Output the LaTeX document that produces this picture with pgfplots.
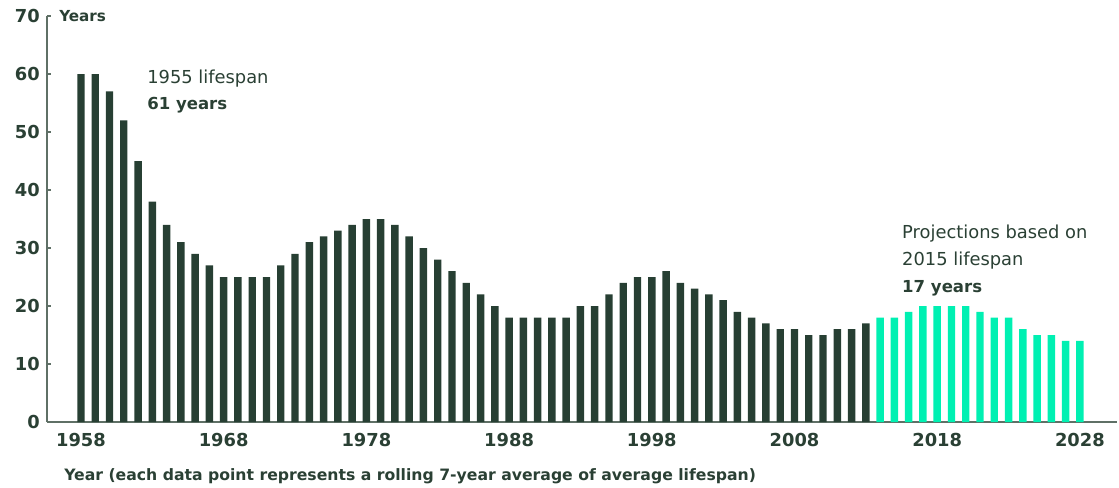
\documentclass[border=0pt]{standalone}
\usepackage{fontspec}
\setmainfont{DejaVu Sans}
\usepackage{pgfplots}
\pgfplotsset{compat=1.18}
\definecolor{darkbar}{RGB}{39,63,51}
\definecolor{greenbar}{RGB}{0,240,178}
\definecolor{txt}{RGB}{42,64,52}
\definecolor{axl}{RGB}{95,112,102}

\pgfplotstableread{
year val
1958 60
1959 60
1960 57
1961 52
1962 45
1963 38
1964 34
1965 31
1966 29
1967 27
1968 25
1969 25
1970 25
1971 25
1972 27
1973 29
1974 31
1975 32
1976 33
1977 34
1978 35
1979 35
1980 34
1981 32
1982 30
1983 28
1984 26
1985 24
1986 22
1987 20
1988 18
1989 18
1990 18
1991 18
1992 18
1993 20
1994 20
1995 22
1996 24
1997 25
1998 25
1999 26
2000 24
2001 23
2002 22
2003 21
2004 19
2005 18
2006 17
2007 16
2008 16
2009 15
2010 15
2011 16
2012 16
2013 17
}\histdata

\pgfplotstableread{
year val
2014 18
2015 18
2016 19
2017 20
2018 20
2019 20
2020 20
2021 19
2022 18
2023 18
2024 16
2025 15
2026 15
2027 14
2028 14
}\projdata

\begin{document}
\begin{tikzpicture}
\useasboundingbox (-35.25pt,-48.75pt) rectangle (804pt,316.5pt);
\begin{axis}[
  at={(0pt,0pt)}, anchor=south west,
  scale only axis,
  width=802.5pt, height=304.5pt,
  xmin=1955.62, xmax=2030.6,
  ymin=0, ymax=70,
  clip=false,
  axis x line*=bottom, axis y line*=left,
  axis line style={-, draw=axl, line width=0.8pt},
  xtick={1958,1968,...,2028},
  ytick={0,10,...,70},
  xtick style={draw=none},
  ytick style={draw=axl, line width=0.8pt},
  tick align=inside,
  major tick length=3pt,
  /pgf/number format/assume math mode=true,
  /pgf/number format/1000 sep={},
  tick label style={font=\fontsize{13.4}{16}\selectfont\bfseries, text=txt, inner sep=0pt},
  xticklabel shift=5.4pt,
  yticklabel shift=5.25pt,
  ybar, bar width=0.52, bar shift=0pt,
]
\addplot[fill=darkbar, draw=none] table[x=year, y=val] {\histdata};
\addplot[fill=greenbar, draw=none] table[x=year, y=val] {\projdata};

\node[anchor=base west, text=txt, font=\fontsize{11.4}{13}\selectfont\bfseries, inner sep=0pt] at (axis cs:1956.46,69.1) {Years};

\node[anchor=base west, text=txt, font=\fontsize{13.4}{16}\selectfont, inner sep=0pt] at (axis cs:1962.63,58.28) {1955 lifespan};
\node[anchor=base west, text=txt, font=\fontsize{12.4}{15}\selectfont\bfseries, inner sep=0pt] at (axis cs:1962.63,53.8) {61 years};

\node[anchor=base west, text=txt, font=\fontsize{13.4}{16}\selectfont, inner sep=0pt] at (axis cs:2015.53,31.7) {Projections based on};
\node[anchor=base west, text=txt, font=\fontsize{13.4}{16}\selectfont, inner sep=0pt] at (axis cs:2015.53,27.07) {2015 lifespan};
\node[anchor=base west, text=txt, font=\fontsize{12.4}{15}\selectfont\bfseries, inner sep=0pt] at (axis cs:2015.53,22.4) {17 years};
\end{axis}
\node[anchor=base west, text=txt, font=\fontsize{11.75}{14}\selectfont\bfseries, inner sep=0pt] at (12.75pt,-43.5pt) {Year (each data point represents a rolling 7-year average of average lifespan)};
\end{tikzpicture}
\end{document}
